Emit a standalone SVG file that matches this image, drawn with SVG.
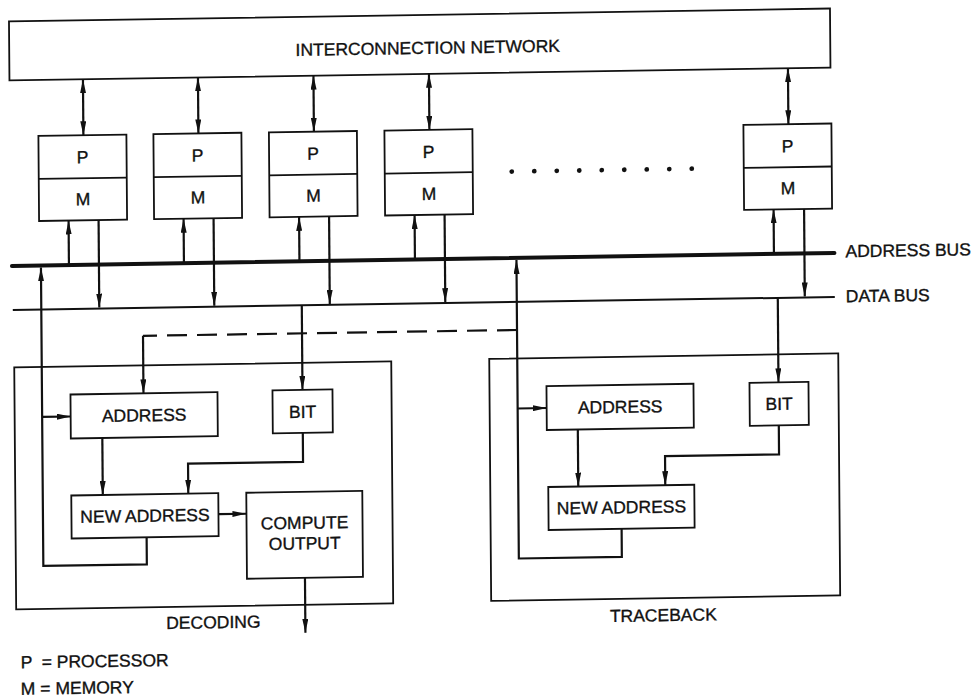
<svg xmlns="http://www.w3.org/2000/svg" width="977" height="698" viewBox="0 0 977 698">
<style>
.box{fill:#fff;stroke:#111;stroke-width:1.8}
.frame{fill:none;stroke:#111;stroke-width:1.8}
.ln{fill:none;stroke:#111;stroke-width:2.2}
.arr{marker-end:url(#ah)}
.dbl{marker-start:url(#ah);marker-end:url(#ah)}
.dash{stroke-dasharray:20 10}
text{font-family:"Liberation Sans",Arial,Helvetica,sans-serif;font-size:17.5px;fill:#111;stroke:#111;stroke-width:0.35}
.c{text-anchor:middle}
</style>
<defs>
<marker id="ah" viewBox="0 0 14 6" refX="14" refY="3" markerWidth="14" markerHeight="6" markerUnits="userSpaceOnUse" orient="auto-start-reverse">
<path d="M0,0 L14,3 L0,6 z" fill="#111"/>
</marker>
</defs>
<rect width="977" height="698" fill="#fff"/>
<g id="diagram" transform="matrix(1,-0.0157,0.008,1,-2.64,6.594)">
  <g id="network">
    <rect class="box" x="11.5" y="15" width="821" height="59"/>
    <text class="c" x="430" y="54">INTERCONNECTION NETWORK</text>
  </g>
  <g id="pm1">
    <rect class="box" x="40" y="130" width="88" height="85"/>
    <line class="frame" x1="40" y1="173" x2="128" y2="173"/>
    <text class="c" x="84" y="158">P</text>
    <text class="c" x="84" y="200">M</text>
  </g>
  <g id="pm2">
    <rect class="box" x="155" y="130" width="88" height="85"/>
    <line class="frame" x1="155" y1="173" x2="243" y2="173"/>
    <text class="c" x="199" y="158">P</text>
    <text class="c" x="199" y="200">M</text>
  </g>
  <g id="pm3">
    <rect class="box" x="270.5" y="130" width="88" height="85"/>
    <line class="frame" x1="270.5" y1="173" x2="358.5" y2="173"/>
    <text class="c" x="314.5" y="158">P</text>
    <text class="c" x="314.5" y="200">M</text>
  </g>
  <g id="pm4">
    <rect class="box" x="386" y="130" width="88" height="85"/>
    <line class="frame" x1="386" y1="173" x2="474" y2="173"/>
    <text class="c" x="430" y="158">P</text>
    <text class="c" x="430" y="200">M</text>
  </g>
  <g id="pm5">
    <rect class="box" x="745" y="130" width="88" height="85"/>
    <line class="frame" x1="745" y1="173" x2="833" y2="173"/>
    <text class="c" x="789" y="158">P</text>
    <text class="c" x="789" y="200">M</text>
  </g>
  <g id="ellipsis" fill="#111">
    <circle cx="513" cy="173" r="2.4"/>
    <circle cx="535.5" cy="173" r="2.4"/>
    <circle cx="558" cy="173" r="2.4"/>
    <circle cx="580.5" cy="173" r="2.4"/>
    <circle cx="603" cy="173" r="2.4"/>
    <circle cx="625.5" cy="173" r="2.4"/>
    <circle cx="648" cy="173" r="2.4"/>
    <circle cx="670.5" cy="173" r="2.4"/>
    <circle cx="693" cy="173" r="2.4"/>
  </g>
  <g id="address-bus">
    <line x1="12.5" y1="259.5" x2="835" y2="259.5" stroke="#111" stroke-width="4" stroke-linecap="round"/>
    <text x="846" y="264">ADDRESS BUS</text>
  </g>
  <g id="data-bus">
    <line x1="13" y1="303.5" x2="835" y2="303.5" stroke="#111" stroke-width="2"/>
    <text x="846" y="309">DATA BUS</text>
  </g>
  <g id="decoding">
    <rect class="frame" x="14" y="361" width="377" height="242"/>
    <text class="c" x="211" y="625">DECODING</text>
  </g>
  <g id="traceback">
    <rect class="frame" x="489" y="360" width="349" height="242"/>
    <text class="c" x="661" y="625">TRACEBACK</text>
  </g>
  <g id="connectors">
    <line class="ln dbl" x1="85" y1="74" x2="85" y2="130"/>
    <line class="ln dbl" x1="200" y1="74" x2="200" y2="130"/>
    <line class="ln dbl" x1="315.5" y1="74" x2="315.5" y2="130"/>
    <line class="ln dbl" x1="431" y1="74" x2="431" y2="130"/>
    <line class="ln dbl" x1="790" y1="74" x2="790" y2="130"/>
    <line class="ln arr" x1="69.5" y1="259.5" x2="69.5" y2="215"/>
    <line class="ln arr" x1="184.5" y1="259.5" x2="184.5" y2="215"/>
    <line class="ln arr" x1="300" y1="259.5" x2="300" y2="215"/>
    <line class="ln arr" x1="415.5" y1="259.5" x2="415.5" y2="215"/>
    <line class="ln arr" x1="774.5" y1="259.5" x2="774.5" y2="215"/>
    <line class="ln arr" x1="99.5" y1="215" x2="99.5" y2="302.5"/>
    <line class="ln arr" x1="214.5" y1="215" x2="214.5" y2="302.5"/>
    <line class="ln arr" x1="330" y1="215" x2="330" y2="302.5"/>
    <line class="ln arr" x1="445.5" y1="215" x2="445.5" y2="302.5"/>
    <line class="ln arr" x1="805" y1="215" x2="805" y2="302.5"/>
    <path class="ln arr" d="M145,533 V560 H41.5 V261.5"/>
    <path class="ln arr" d="M41.5,411 H70"/>
    <path class="ln arr" d="M302,303.5 V388"/>
    <path class="ln dash" d="M517,331.5 H143"/>
    <path class="ln arr" d="M143,331.5 V389"/>
    <path class="ln arr" d="M101.5,433 V490"/>
    <path class="ln arr" d="M302,431 V460 H187 V490"/>
    <path class="ln arr" d="M217,511 H245"/>
    <path class="ln arr" d="M303,576 V631"/>
    <path class="ln arr" d="M620,532 V560 H517 V261.5"/>
    <path class="ln arr" d="M517,410 H546"/>
    <path class="ln arr" d="M778,303.5 V388"/>
    <path class="ln arr" d="M577,432 V489"/>
    <path class="ln arr" d="M778,431 V460 H664 V489"/>
  </g>
  <g id="dec-address">
    <rect class="box" x="70" y="389" width="147" height="44"/>
    <text class="c" x="143.5" y="417">ADDRESS</text>
  </g>
  <g id="dec-bit">
    <rect class="box" x="272" y="388" width="60" height="43"/>
    <text class="c" x="302" y="416">BIT</text>
  </g>
  <g id="dec-new-address">
    <rect class="box" x="70" y="490" width="147" height="43"/>
    <text class="c" x="143.5" y="517.5">NEW ADDRESS</text>
  </g>
  <g id="dec-compute-output">
    <rect class="box" x="245" y="490" width="116" height="86"/>
    <text class="c" x="303" y="527">COMPUTE</text>
    <text class="c" x="303" y="547.5">OUTPUT</text>
  </g>
  <g id="tb-address">
    <rect class="box" x="546" y="388" width="147" height="44"/>
    <text class="c" x="619.5" y="416">ADDRESS</text>
  </g>
  <g id="tb-bit">
    <rect class="box" x="749" y="388" width="59" height="43"/>
    <text class="c" x="778.5" y="415.5">BIT</text>
  </g>
  <g id="tb-new-address">
    <rect class="box" x="547" y="489" width="146" height="43"/>
    <text class="c" x="620" y="516.5">NEW ADDRESS</text>
  </g>
  <g id="legend">
    <text x="18" y="662" xml:space="preserve">P  = PROCESSOR</text>
    <text x="18" y="688.5">M = MEMORY</text>
  </g>
</g>
</svg>
